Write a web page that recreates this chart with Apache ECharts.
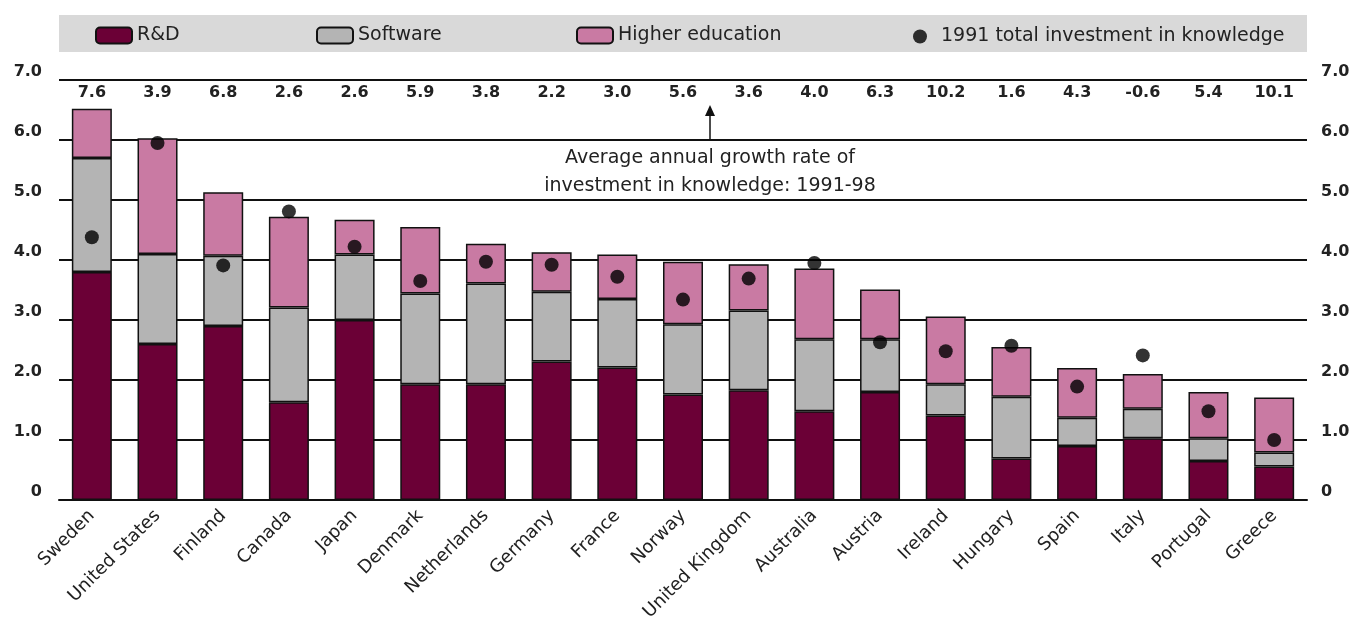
<!DOCTYPE html>
<html><head><meta charset="utf-8">
<script src="https://cdn.jsdelivr.net/npm/echarts@6/dist/echarts.min.js"></script>
<style>html,body{margin:0;padding:0;background:#fff}#c{width:1357px;height:631px}</style>
</head><body><div id="c"></div>
<script>
const countries = ["Sweden","United States","Finland","Canada","Japan","Denmark","Netherlands","Germany","France","Norway","United Kingdom","Australia","Austria","Ireland","Hungary","Spain","Italy","Portugal","Greece"];
const rd       = [3.80,2.60,2.90,1.63,3.00,1.93,1.93,2.31,2.21,1.76,1.83,1.48,1.80,1.41,0.69,0.90,1.03,0.65,0.56];
const software = [1.90,1.50,1.17,1.58,1.09,1.51,1.68,1.16,1.14,1.17,1.33,1.20,0.88,0.52,1.03,0.47,0.49,0.38,0.23];
const highered = [0.82,1.93,1.06,1.51,0.58,1.11,0.66,0.66,0.74,1.04,0.77,1.18,0.83,1.13,0.83,0.83,0.58,0.77,0.92];
const total1991= [4.38,5.95,3.91,4.81,4.22,3.65,3.97,3.92,3.72,3.34,3.69,3.95,2.63,2.48,2.57,1.89,2.41,1.48,1.00];
const growth   = ["7.6","3.9","6.8","2.6","2.6","5.9","3.8","2.2","3.0","5.6","3.6","4.0","6.3","10.2","1.6","4.3","-0.6","5.4","10.1"];
const yTicks = {min:0, max:7, interval:1};

const FONT = "DejaVu Sans";
const chart = echarts.init(document.getElementById('c'), null, {renderer:'canvas'});
const yLab = v => v===0 ? '0' : v.toFixed(1);
const barStyle = c => ({color:c, borderColor:'#111', borderWidth:1.5});
const legendText = {fontFamily:FONT, fontSize:19, color:'#222'};
const numLab = {fontSize:16, fontWeight:'bold', color:'#222', fontFamily:FONT};
chart.setOption({
  animation:false,
  textStyle:{fontFamily:FONT},
  graphic:[
    {type:'rect', z:-1, shape:{x:59,y:15,width:1248,height:37}, style:{fill:'#d9d9d9'}},
    {type:'line', shape:{x1:710,y1:139,x2:710,y2:112}, style:{stroke:'#111', lineWidth:1.5}},
    {type:'polygon', shape:{points:[[705,116],[715,116],[710,105]]}, style:{fill:'#111'}},
    {type:'text', style:{text:'Average annual growth rate of\ninvestment in knowledge: 1991-98', x:710, y:172, align:'center', verticalAlign:'middle', fontFamily:FONT, fontSize:19, lineHeight:28, fill:'#222'}}
  ],
  legend:[
    {data:['R&D'], left:90, top:21, itemWidth:36, itemHeight:16, textStyle:legendText},
    {data:['Software'], left:311, top:21, itemWidth:36, itemHeight:16, textStyle:legendText},
    {data:['Higher education'], left:571, top:21, itemWidth:36, itemHeight:16, textStyle:legendText},
    {data:['1991 total investment in knowledge'], left:908, top:22, itemWidth:14, itemHeight:14,
     textStyle:Object.assign({padding:[0,0,0,9]}, legendText)}
  ],
  grid:{left:59, right:50, top:80, bottom:131},
  xAxis:[
    {type:'category', data:countries, axisLine:{lineStyle:{color:'#111', width:2}}, axisTick:{show:false},
     axisLabel:{rotate:45, interval:0, fontSize:18, color:'#222', margin:13, fontFamily:FONT}},
    {type:'category', data:growth, position:'top', axisLine:{show:false}, axisTick:{show:false},
     axisLabel:Object.assign({inside:true, interval:0, margin:5}, numLab)}
  ],
  yAxis:[
    {type:'value', min:yTicks.min, max:yTicks.max, interval:yTicks.interval, position:'left',
     axisLine:{show:false}, axisTick:{show:false},
     splitLine:{lineStyle:{color:'#111', width:1.8}},
     axisLabel:Object.assign({formatter:yLab, margin:17, verticalAlign:'bottom'}, numLab)},
    {type:'value', min:yTicks.min, max:yTicks.max, interval:yTicks.interval, position:'right',
     axisLine:{show:false}, axisTick:{show:false}, splitLine:{show:false},
     axisLabel:Object.assign({formatter:yLab, margin:14, verticalAlign:'bottom'}, numLab)}
  ],
  series:[
    {name:'R&D', type:'bar', stack:'k', data:rd, barWidth:40, itemStyle:barStyle('#6b0036')},
    {name:'Software', type:'bar', stack:'k', data:software, barWidth:40, itemStyle:barStyle('#b4b4b4')},
    {name:'Higher education', type:'bar', stack:'k', data:highered, barWidth:40, itemStyle:barStyle('#c97aa3')},
    {name:'1991 total investment in knowledge', type:'scatter', data:total1991, symbol:'circle', symbolSize:14, itemStyle:{color:'#000'}, z:5}
  ]
});
</script></body></html>
